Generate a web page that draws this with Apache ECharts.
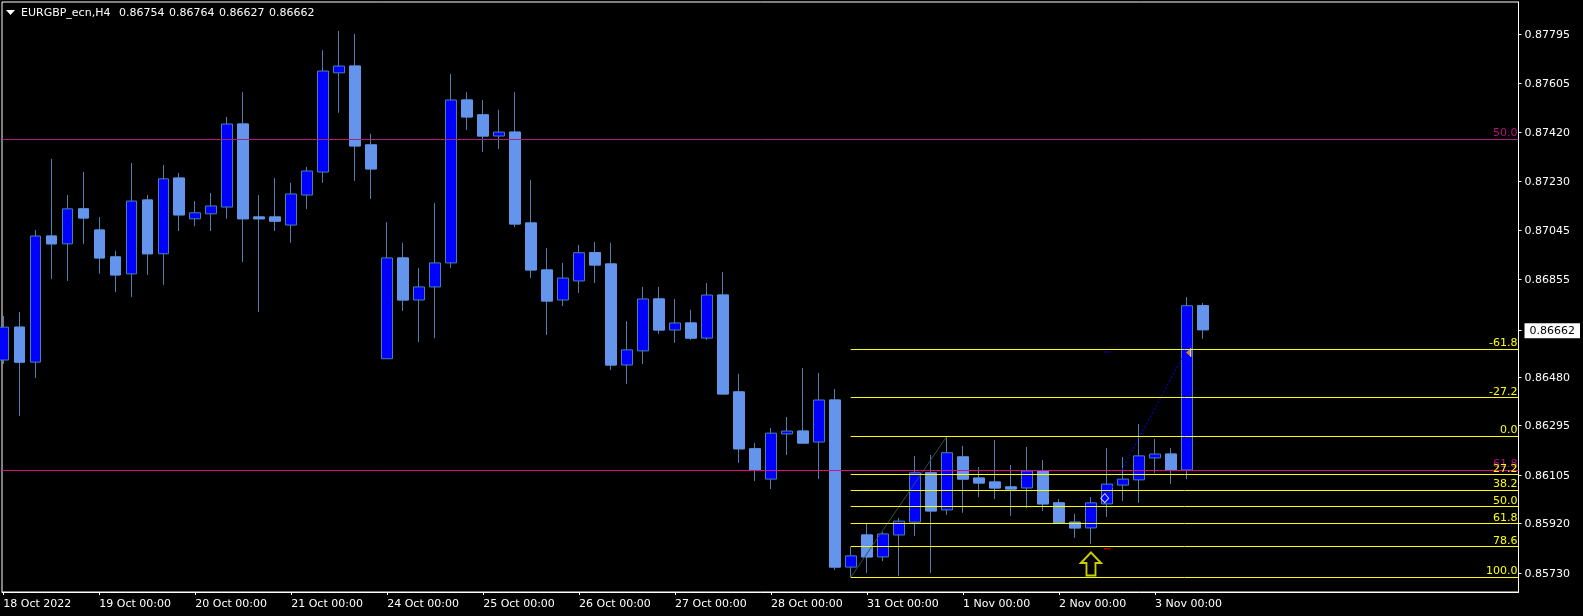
<!DOCTYPE html>
<html><head><meta charset="utf-8">
<style>html,body{margin:0;padding:0;background:#000}#c{width:1583px;height:616px}</style>
<script src="https://cdn.jsdelivr.net/npm/echarts@6/dist/echarts.min.js"></script>
</head><body><div id="c"></div>
<script>
// [index, open, close, low, high]
const candles = [
[0,0.86546,0.86672,0.86531,0.86715],[1,0.86672,0.86538,0.86332,0.86730],[2,0.86538,0.87021,0.86477,0.87044],
[3,0.87021,0.86991,0.86857,0.87317],[4,0.86991,0.87125,0.86849,0.87178],[5,0.87125,0.87090,0.86991,0.87266],
[6,0.87044,0.86937,0.86876,0.87094],[7,0.86941,0.86872,0.86806,0.86964],[8,0.86876,0.87155,0.86787,0.87301],
[9,0.87159,0.86953,0.86872,0.87178],[10,0.86953,0.87240,0.86834,0.87293],[11,0.87243,0.87102,0.87040,0.87263],
[12,0.87087,0.87110,0.87059,0.87155],[13,0.87106,0.87136,0.87040,0.87186],[14,0.87132,0.87450,0.87087,0.87477],
[15,0.87450,0.87087,0.86921,0.87572],[16,0.87094,0.87087,0.86730,0.87178],[17,0.87094,0.87078,0.87040,0.87243],
[18,0.87063,0.87182,0.86995,0.87225],[19,0.87178,0.87270,0.87125,0.87285],[20,0.87266,0.87653,0.87225,0.87733],
[21,0.87646,0.87672,0.87493,0.87806],[22,0.87672,0.87366,0.87232,0.87795],[23,0.87370,0.87278,0.87163,0.87412],
[24,0.86551,0.86937,0.86551,0.87074],[25,0.86937,0.86776,0.86734,0.86995],[26,0.86776,0.86826,0.86615,0.86899],
[27,0.86826,0.86918,0.86630,0.87147],[28,0.86918,0.87542,0.86899,0.87642],[29,0.87542,0.87477,0.87427,0.87572],
[30,0.87485,0.87404,0.87343,0.87542],[31,0.87404,0.87419,0.87354,0.87504],[32,0.87419,0.87067,0.87055,0.87572],
[33,0.87071,0.86891,0.86860,0.87236],[34,0.86891,0.86772,0.86642,0.86975],[35,0.86776,0.86860,0.86753,0.86918],
[36,0.86849,0.86957,0.86803,0.86987],[37,0.86957,0.86910,0.86841,0.86998],[38,0.86914,0.86527,0.86508,0.86995],
[39,0.86527,0.86585,0.86455,0.86695],[40,0.86581,0.86780,0.86531,0.86826],[41,0.86780,0.86661,0.86646,0.86826],
[42,0.86661,0.86688,0.86612,0.86780],[43,0.86688,0.86630,0.86623,0.86738],[44,0.86630,0.86795,0.86623,0.86841],
[45,0.86795,0.86416,0.86416,0.86883],[46,0.86424,0.86206,0.86152,0.86493],[47,0.86206,0.86125,0.86083,0.86228],
[48,0.86090,0.86266,0.86052,0.86286],[49,0.86263,0.86274,0.86182,0.86328],[50,0.86274,0.86228,0.86228,0.86516],
[51,0.86232,0.86393,0.86090,0.86497],[52,0.86393,0.85753,0.85742,0.86435],[53,0.85753,0.85796,0.85715,0.85830],
[54,0.85876,0.85792,0.85730,0.85918],[55,0.85792,0.85880,0.85776,0.85887],[56,0.85876,0.85929,0.85719,0.85941],
[57,0.85925,0.86114,0.85872,0.86179],[58,0.86114,0.85968,0.85730,0.86183],[59,0.85972,0.86191,0.85953,0.86251],
[60,0.86175,0.86090,0.85961,0.86217],[61,0.86094,0.86075,0.86021,0.86136],[62,0.86079,0.86056,0.86014,0.86240],
[63,0.86060,0.86052,0.85949,0.86144],[64,0.86056,0.86121,0.85979,0.86213],[65,0.86121,0.85995,0.85968,0.86163],
[66,0.85999,0.85922,0.85922,0.86014],[67,0.85925,0.85903,0.85865,0.85957],[68,0.85903,0.85999,0.85842,0.86021],
[69,0.85995,0.86071,0.85945,0.86209],[70,0.86067,0.86090,0.86006,0.86175],[71,0.86087,0.86179,0.85999,0.86301],
[72,0.86171,0.86186,0.86114,0.86243],[73,0.86186,0.86125,0.86071,0.86209],[74,0.86125,0.86754,0.86090,0.86787],
[75,0.86754,0.86662,0.86627,0.86764]
];
const titleSymbol = 'EURGBP_ecn,H4';
const titleQuote = ['0.86754','0.86764','0.86627','0.86662'];
const priceTicks = [0.87795,0.87605,0.87420,0.87230,0.87045,0.86855,0.86662,0.86480,0.86295,0.86105,0.85920,0.85730];
const lastPrice = 0.86662;
const dateTicks = [0,6,12,18,24,30,36,42,48,54,60,66,72];
const dateLabels = ['18 Oct 2022','19 Oct 00:00','20 Oct 00:00','21 Oct 00:00','24 Oct 00:00','25 Oct 00:00','26 Oct 00:00','27 Oct 00:00','28 Oct 00:00','31 Oct 00:00','1 Nov 00:00','2 Nov 00:00','3 Nov 00:00'];
const fibStartIndex = 53;
const fibNames = ['-61.8','-27.2','0.0','27.2','38.2','50.0','61.8','78.6','100.0'];
const fibPrices = [0.86589,0.86402,0.86255,0.86108,0.86049,0.85985,0.85921,0.85831,0.85715];
const hLineNames = ['50.0','61.8'];
const hLinePrices = [0.87393,0.86125];
const hLineColors = ['#b01e7c','#d9117f'];
const fibDiagonal = [[53,0.85715],[59,0.86255]];
const tradeLine = [[68.98,0.86017],[74,0.86589]];
const entryPoint = [[68.86,0.86017]];
const exitPoint = [[74.1,0.86575]];
const exitEdge = [[74.24,0.86575]];
const upArrow = [[68,0.85765]];
const redDash = [[68.8,0.85823],[69.23,0.85823]];
const blueDash = [[68.8,0.86577],[69.23,0.86577]];

const xMin = -0.08125, xMax = 94.73, yMin = 0.856576, yMax = 0.879173;
const FONT = '"DejaVu Sans"', FS = 11;
const bodyOnly = candles.filter(c => c[2] < c[1]).map(c => [c[0], c[1], c[2], c[2], c[1]]);
const WICK = '#4682B4', BEAR = '#6495ED', BULL = '#0000FF', YEL = '#FFFF00';
const arrowPath = 'path://M11 1 L21 12 L15.5 12 L15.5 25 L6.5 25 L6.5 12 L1 12 Z';

const fibLines = fibNames.map((n, i) => [
  {xAxis: fibStartIndex - 0.02, yAxis: fibPrices[i], name: n,
   label: {show: true, formatter: n, position: 'insideEndTop', color: YEL, fontFamily: FONT, fontSize: FS, distance: [1, 0], padding: 0}},
  {xAxis: xMax, yAxis: fibPrices[i]}
]);
const magLines = hLinePrices.map((p, i) => [
  {xAxis: xMin, yAxis: p, lineStyle: {color: hLineColors[i], width: 1, type: 'solid'},
   label: {show: true, formatter: hLineNames[i], position: 'insideEndTop', color: '#b3127a', fontFamily: FONT, fontSize: FS, distance: [1, 0], padding: 0}},
  {xAxis: xMax, yAxis: p}
]);
const titleStyle = {color: '#fff', fontFamily: FONT, fontSize: FS, fontWeight: 'normal'};
const titles = [{text: titleSymbol, left: 21, top: 8, padding: 0, textStyle: titleStyle}]
  .concat(titleQuote.map((q, i) => ({text: q, left: 119 + 50 * i, top: 8, padding: 0, textStyle: titleStyle})));

const chart = echarts.init(document.getElementById('c'), null, {renderer: 'canvas'});
chart.setOption({
  animation: false,
  backgroundColor: '#000',
  title: titles,
  grid: {left: 2, top: 2, width: 1517, height: 590, show: true, borderColor: '#fff', borderWidth: 1, backgroundColor: '#000', containLabel: false},
  xAxis: {
    type: 'value', min: xMin, max: xMax, position: 'bottom',
    axisLine: {show: true, onZero: false, lineStyle: {color: '#fff', width: 1}},
    axisTick: {show: true, length: 3, customValues: dateTicks, lineStyle: {color: '#fff'}},
    axisLabel: {show: true, customValues: dateTicks, color: '#fff', fontFamily: FONT, fontSize: FS, margin: 7, align: 'left', hideOverlap: false,
      formatter: v => dateLabels[dateTicks.indexOf(Math.round(v))] || ''},
    splitLine: {show: false}
  },
  yAxis: {
    type: 'value', min: yMin, max: yMax, position: 'right', scale: true,
    axisLine: {show: true, onZero: false, lineStyle: {color: '#fff', width: 1}},
    axisTick: {show: true, length: 3, customValues: priceTicks, lineStyle: {color: '#fff'}},
    axisLabel: {show: true, customValues: priceTicks, color: '#fff', fontFamily: FONT, fontSize: FS, margin: 6, hideOverlap: false, padding: [2, 0, 0, 0],
      formatter: v => Math.abs(v - lastPrice) < 1e-7 ? '{last|' + v.toFixed(5) + '}' : v.toFixed(5),
      rich: {last: {backgroundColor: '#fff', color: '#000', fontFamily: FONT, fontSize: FS, padding: [2, 5, 2, 5]}}},
    splitLine: {show: false}
  },
  series: [
    {type: 'candlestick', name: 'EURGBP_ecn', data: candles, encode: {x: 0, y: [1, 2, 3, 4]}, barWidth: 11, clip: true, z: 2,
      itemStyle: {color: BULL, color0: BEAR, borderColor: WICK, borderColor0: WICK, borderColorDoji: WICK, borderWidth: 1}},
    {type: 'candlestick', name: 'down bodies', data: bodyOnly, encode: {x: 0, y: [1, 2, 3, 4]}, barWidth: 11, clip: true, z: 3,
      itemStyle: {color: BULL, color0: BEAR, borderColor: BEAR, borderColor0: BEAR, borderColorDoji: BEAR, borderWidth: 1}},
    {type: 'line', name: 'fib diagonal', data: fibDiagonal, symbol: 'none', z: 4, silent: true,
      lineStyle: {color: '#2F4F4F', width: 1}},
    {type: 'line', name: 'trade', data: tradeLine, symbol: 'none', z: 4, silent: true,
      lineStyle: {color: '#0000FF', width: 1, type: [2, 2]}},
    {type: 'line', name: 'red mark', data: redDash, symbol: 'none', z: 4, silent: true,
      lineStyle: {color: '#FF0000', width: 1}},
    {type: 'line', name: 'blue mark', data: blueDash, symbol: 'none', z: 4, silent: true,
      lineStyle: {color: '#0000CD', width: 1}},
    {type: 'line', name: 'levels', data: [], symbol: 'none', z: 5, silent: true,
      markLine: {silent: true, symbol: 'none', animation: false, z: 5, precision: 10,
        lineStyle: {color: YEL, width: 1, type: 'solid'},
        data: magLines.concat(fibLines)}},
    {type: 'scatter', name: 'arrow', data: upArrow, symbol: arrowPath, symbolSize: [20, 23], z: 6, silent: true,
      itemStyle: {color: 'rgba(0,0,0,0)', borderColor: YEL, borderWidth: 2}},
    {type: 'scatter', name: 'entry', data: entryPoint, symbol: 'diamond', symbolSize: [8, 9], z: 6, silent: true,
      itemStyle: {color: '#0000FF', borderColor: '#fff', borderWidth: 1}},
    {type: 'scatter', name: 'exit', data: exitPoint, symbol: 'triangle', symbolRotate: 90, symbolSize: [9, 5], z: 6, silent: true,
      itemStyle: {color: '#FFA500'}},
    {type: 'scatter', name: 'exit edge', data: exitEdge, symbol: 'rect', symbolSize: [1, 9], z: 6, silent: true,
      itemStyle: {color: '#fff'}}
  ],
  graphic: [{type: 'polygon', silent: true, shape: {points: [[6, 10], [15, 10], [10.5, 15]]}, style: {fill: '#fff'}}]
});
</script></body></html>
